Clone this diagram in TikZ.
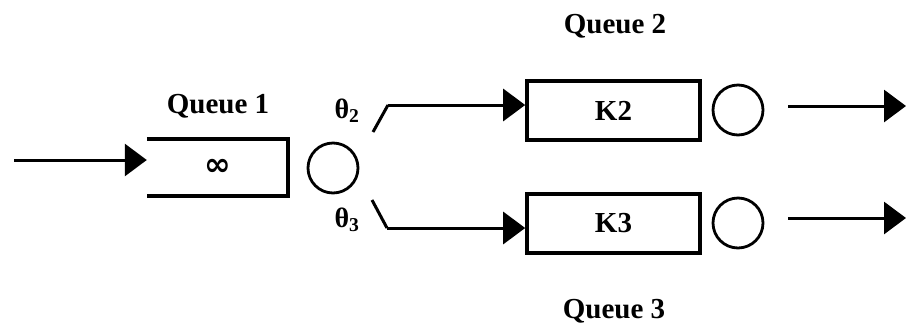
\documentclass[tikz,border=0pt]{standalone}
\usepackage{fontspec}
\setmainfont{Liberation Serif}
\newfontfamily\symfont{DejaVu Sans}
\usetikzlibrary{arrows.meta}
\begin{document}
\begin{tikzpicture}[x=1pt,y=-1pt,
  lbl/.style={font=\fontsize{29}{30}\selectfont\bfseries, inner sep=0pt, anchor=base},
  greek/.style={font=\fontsize{28}{30}\selectfont\bfseries, inner sep=0pt},
  buffer/.style={draw, line width=3.6pt, minimum width=173pt, minimum height=59pt, inner sep=0pt,
    font=\fontsize{29}{30}\selectfont\bfseries},
  server/.style={draw, circle, line width=2.8pt, minimum size=50pt, inner sep=0pt},
  flow/.style={line width=3pt, -{Triangle[length=22pt,width=32pt]}},
  seg/.style={line width=3pt, line join=miter}]
\useasboundingbox (0,0) rectangle (907,325);

% queue 1: open-ended buffer and its server
\node[minimum width=141pt, minimum height=57pt, inner sep=0pt,
      font=\symfont\fontsize{32}{32}\selectfont\bfseries] (q1) at (217.5,167.5) {∞};
\draw[line width=3.6pt] (q1.north west) -- (q1.north east) -- (q1.south east) -- (q1.south west);
\node[server] (s1) at (333,168) {};
\node[lbl] (l1) at (218,113) {Queue 1};

% queues 2 and 3
\node[buffer] (k2) at (613.5,110.5) {K2};
\node[buffer] (k3) at (613.5,223.5) {K3};
\node[server] (s2) at (738,110) {};
\node[server] (s3) at (738,223) {};
\node[lbl] (l2) at (615,33) {Queue 2};
\node[lbl] (l3) at (614,318) {Queue 3};

% routing probabilities
\node[greek] (t2) at (347,111) {θ\textsubscript{2}};
\node[greek] (t3) at (347,220) {θ\textsubscript{3}};

% arrivals
\coordinate (in) at (14,160);
\draw[flow] (in) -- (q1.west |- in);

% branches from server 1
\coordinate (b2s) at (373,132);
\coordinate (b2c) at (388,105);
\coordinate (b3s) at (372,200);
\coordinate (b3c) at (387,228);
\draw[seg] (b2s) -- (b2c);
\draw[flow] (b2c) -- (k2.west |- b2c);
\draw[seg] (b3s) -- (b3c);
\draw[flow] (b3c) -- (k3.west |- b3c);

% departures
\coordinate (o2s) at (788,106);
\coordinate (o2e) at (906,106);
\coordinate (o3s) at (788,218);
\coordinate (o3e) at (906,218);
\draw[flow] (o2s) -- (o2e);
\draw[flow] (o3s) -- (o3e);
\end{tikzpicture}
\end{document}
